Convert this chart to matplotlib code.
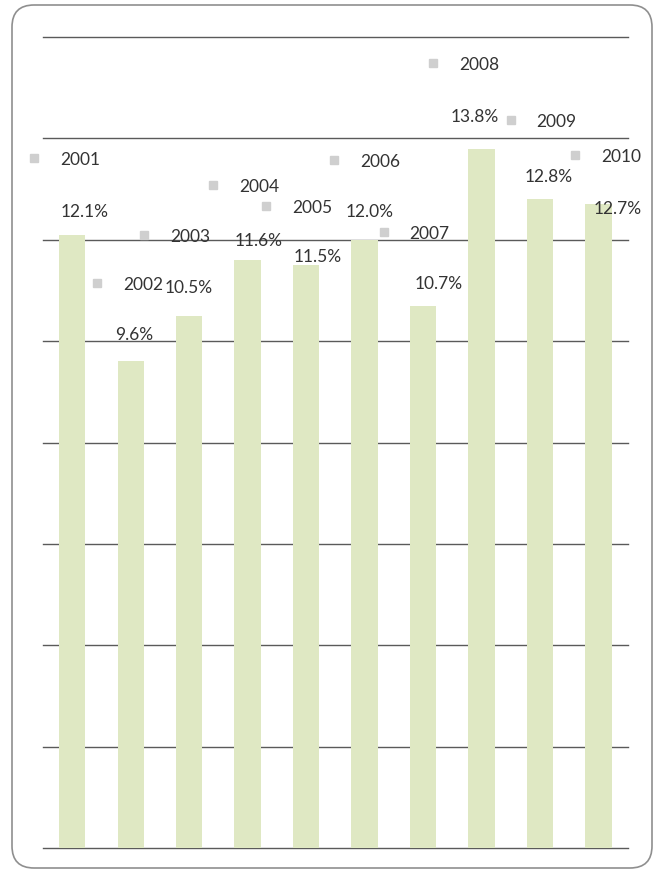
import matplotlib
matplotlib.use("Agg")
import matplotlib.pyplot as plt
from matplotlib.patches import FancyBboxPatch

plt.rcParams['font.family'] = ['Lato', 'DejaVu Sans']

# 数据：年份和增长率(%)
years = ['2001', '2002', '2003', '2004', '2005', '2006', '2007', '2008', '2009', '2010']
growth = [12.1, 9.6, 10.5, 11.6, 11.5, 12.0, 10.7, 13.8, 12.8, 12.7]
value_labels = ['12.1%', '9.6%', '10.5%', '11.6%', '11.5%', '12.0%', '10.7%', '13.8%', '12.8%', '12.7%']

# 标签位置（相对柱子的偏移，数据单位）
val_dx = [0.22, 0.06, 0.0, 0.18, 0.19, 0.09, 0.27, -0.11, 0.14, 0.32]
val_dy = [0.44, 0.52, 0.55, 0.37, 0.16, 0.54, 0.42, 0.62, 0.43, -0.10]
year_dx = [-0.65, -0.57, -0.77, -0.59, -0.68, -0.52, -0.67, -0.83, -0.50, -0.40]
year_dy = [1.51, 1.54, 1.59, 1.48, 1.16, 1.57, 1.45, 1.68, 1.56, 0.97]

fig = plt.figure(figsize=(6.56, 8.72), dpi=100)
ax = fig.add_axes([0.0655, 0.0275, 0.8915, 0.930])

x = list(range(len(years)))
ax.bar(x, growth, width=0.45, color='#dfe8c3', zorder=2)

ax.set_xlim(-0.5, len(years) - 0.5)
ax.set_ylim(0, 16)
ax.set_yticks(range(0, 17, 2))
ax.yaxis.grid(True, color='#5a5a5a', linewidth=1.0, zorder=0)
for gl in ax.get_ygridlines():
    gl.set_clip_on(False)
ax.set_axisbelow(True)
ax.set_xticks([])
ax.tick_params(left=False, labelleft=False)
for s in ax.spines.values():
    s.set_visible(False)

for i in x:
    ax.text(i + val_dx[i], growth[i] + val_dy[i], value_labels[i],
            ha='center', va='center', fontsize=12.5, color='#333333', zorder=4)
    mx = i + year_dx[i]
    my = growth[i] + year_dy[i]
    ax.plot([mx], [my], marker='s', ms=5.5, color='#cfcfcf', clip_on=False, zorder=3)
    ax.text(mx + 0.44, my - 0.04, years[i], ha='left', va='center',
            fontsize=12.5, color='#333333', zorder=4)

# 圆角外框
box = FancyBboxPatch((12, 4), 640, 863, boxstyle='round,pad=0,rounding_size=22',
                     transform=None, facecolor='none', edgecolor='#8f8f8f', linewidth=1.2)
fig.patches.append(box)

plt.savefig('out.png', dpi=100)
